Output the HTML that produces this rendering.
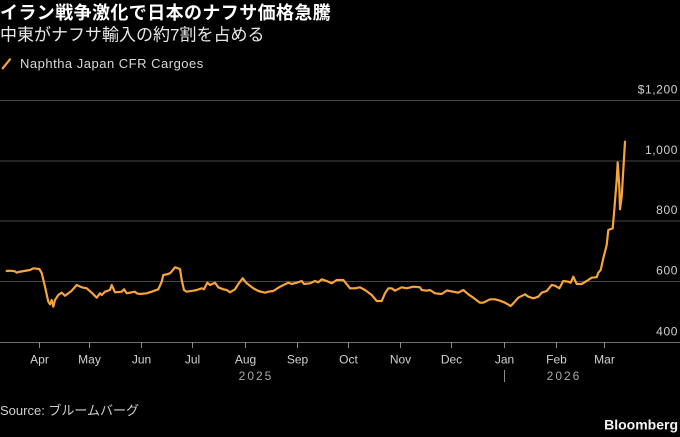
<!DOCTYPE html>
<html>
<head>
<meta charset="utf-8">
<style>
html,body{margin:0;padding:0;background:#000;}
svg{display:block;}
text{font-family:"Liberation Sans","Noto Sans CJK JP",sans-serif;}
</style>
</head>
<body>
<svg width="680" height="437" viewBox="0 0 680 437" xmlns="http://www.w3.org/2000/svg">
<rect x="0" y="0" width="680" height="437" fill="#000"/>
<text x="0" y="19" font-size="18" font-weight="bold" fill="#fff" letter-spacing="0.4">イラン戦争激化で日本のナフサ価格急騰</text>
<text x="0" y="40.5" font-size="17" fill="#e8e8e8">中東がナフサ輸入の約7割を占める</text>
<line x1="2.7" y1="68.3" x2="10" y2="59.3" stroke="#f7a43a" stroke-width="2.2" stroke-linecap="round"/>
<text x="20" y="68" font-size="13" fill="#d9d9d9" letter-spacing="0.5">Naphtha Japan CFR Cargoes</text>

<g stroke="#474747" stroke-width="1">
<line x1="0" y1="100.5" x2="680" y2="100.5"/>
<line x1="0" y1="161" x2="680" y2="161"/>
<line x1="0" y1="221" x2="680" y2="221"/>
<line x1="0" y1="281.5" x2="680" y2="281.5"/>
</g>
<line x1="0" y1="342.5" x2="680" y2="342.5" stroke="#707070" stroke-width="1"/>

<g font-size="12" fill="#cfcfcf" text-anchor="end" letter-spacing="0.6">
<text x="678" y="93.5">$1,200</text>
<text x="678" y="154">1,000</text>
<text x="678" y="214">800</text>
<text x="678" y="274.5">600</text>
<text x="678" y="335.5">400</text>
</g>

<g stroke="#8a8a8a" stroke-width="1">
<line x1="39.5" y1="342" x2="39.5" y2="348"/>
<line x1="89.5" y1="342" x2="89.5" y2="348"/>
<line x1="141.5" y1="342" x2="141.5" y2="348"/>
<line x1="192.5" y1="342" x2="192.5" y2="348"/>
<line x1="245.5" y1="342" x2="245.5" y2="348"/>
<line x1="297.5" y1="342" x2="297.5" y2="348"/>
<line x1="348.5" y1="342" x2="348.5" y2="348"/>
<line x1="400.5" y1="342" x2="400.5" y2="348"/>
<line x1="451.5" y1="342" x2="451.5" y2="348"/>
<line x1="504.5" y1="342" x2="504.5" y2="348"/>
<line x1="556.5" y1="342" x2="556.5" y2="348"/>
<line x1="604.5" y1="342" x2="604.5" y2="348"/>
<line x1="504.5" y1="370" x2="504.5" y2="382"/>
</g>

<g font-size="12" fill="#d0d0d0" text-anchor="middle">
<text x="39.5" y="363.5">Apr</text>
<text x="89.5" y="363.5">May</text>
<text x="141.5" y="363.5">Jun</text>
<text x="192.5" y="363.5">Jul</text>
<text x="245.5" y="363.5">Aug</text>
<text x="297.5" y="363.5">Sep</text>
<text x="348.5" y="363.5">Oct</text>
<text x="400.5" y="363.5">Nov</text>
<text x="451.5" y="363.5">Dec</text>
<text x="504.5" y="363.5">Jan</text>
<text x="556.5" y="363.5">Feb</text>
<text x="604.5" y="363.5">Mar</text>
</g>
<g font-size="12" fill="#a8a8a8" text-anchor="middle" letter-spacing="2">
<text x="256" y="380">2025</text>
<text x="564" y="380">2026</text>
</g>

<polyline fill="none" stroke="#f7a43a" stroke-width="2.2" stroke-linejoin="round" stroke-linecap="round" points="6.7,271 10,270.7 15,271.3 16.7,272.7 18.3,272 30,270 33.3,268.3 39.3,269 41.7,273 45,286.7 48.3,301.7 50,304.3 51.7,300 53.3,306.7 55,300 58.3,295 61.7,292.7 65,295.7 71.7,290.7 76.7,285 81.7,287.3 86.7,288.3 91.7,292.7 96.7,297.7 100,293.3 101.7,295 105,291.7 110,290 111.7,285 115,292.3 121.7,291.7 124,289.3 126.7,293.3 131.7,292.3 135,291.7 136.7,293.3 140,294 146.7,293.3 151.7,291.7 158.3,289.3 161.7,281.7 163.3,275 168.3,274 170.7,272.7 175,267.3 180,269 181.7,280 184,290 186.7,291.7 193.3,290.7 196.7,290 201.7,288.3 204,289.3 207.3,282.7 210,285 215,282.7 218.3,287.3 223.3,289.3 226.7,290 230,292.3 235,289.3 238.3,284 242.7,278.3 246.7,283.3 253.3,288.3 258.3,291 265,292.7 268.3,291.7 273.3,291 280,286.7 285,284.3 288.3,282.7 291.7,284 296.7,282.7 301.7,281 304,284 310,283.3 315,281 318.3,282.3 321.7,279.3 326.7,281 331.7,283.3 336.7,280 343.3,280 346,283.3 350,288.3 355,288.3 360,287.3 365,290 371.7,295 376.7,301 381.7,301 385,293.3 388.3,288.3 391.7,288.3 395,290.7 401.7,287.3 406.7,288.3 413.3,286.7 420,287.3 421.7,290 426.7,290.7 430,290 435,293.3 441.7,294 446.7,290.5 453.3,291.7 458.3,292.7 463.3,290 468.3,294.3 473.3,297.7 480,302.7 483.3,302.7 490,299.3 495,299.3 500,300.7 505,302.7 510.7,306 513.3,303.3 518.3,297.7 525,294.3 528.3,296.7 533.3,298.3 538.3,296.7 541.7,292.7 546.7,291 551.7,285 555,285.7 559.3,288.3 563.3,281 568.3,281.7 570.7,282.7 573.3,276.7 576.7,284 581.7,284 586.7,281 591.7,277.7 596.7,277.2 598.3,272.7 600.7,270 603.3,258.3 606.7,245 608.3,230 612.7,228.3 614,213.3 616.7,180 617.7,162.3 619.3,186.7 620,209.3 621.7,196.7 625,141.7"/>

<text x="0" y="415" font-size="13" fill="#cfcfcf">Source: ブルームバーグ</text>
<text x="678" y="429.5" font-size="14" font-weight="bold" fill="#f2f2f2" text-anchor="end">Bloomberg</text>
</svg>
</body>
</html>
